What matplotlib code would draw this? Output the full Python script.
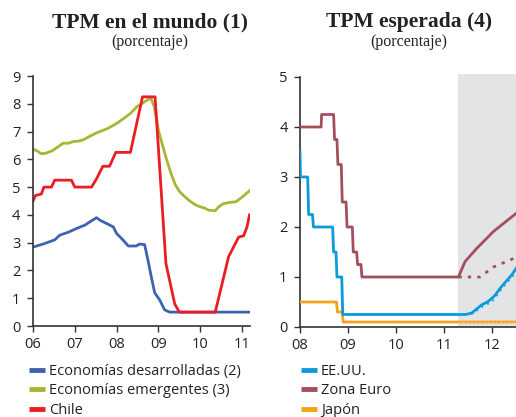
import matplotlib
matplotlib.use("Agg")
import matplotlib.pyplot as plt
from matplotlib.lines import Line2D

# ---------------- Data ----------------
# Left panel: TPM en el mundo (years as 2-digit decimal)
dev_x = [6.0, 6.24, 6.52, 6.64, 6.85, 7.04, 7.24, 7.36, 7.52, 7.6, 7.76, 7.92, 8.0, 8.12,
         8.28, 8.47, 8.55, 8.67, 8.75, 8.83, 8.91, 9.03, 9.15, 9.27, 9.4, 11.2]
dev_y = [2.84, 2.95, 3.1, 3.27, 3.38, 3.51, 3.63, 3.75, 3.9, 3.81, 3.69, 3.57, 3.33, 3.15,
         2.88, 2.88, 2.95, 2.93, 2.37, 1.77, 1.2, 0.94, 0.58, 0.5, 0.5, 0.5]

em_x = [6.0, 6.1, 6.2, 6.3, 6.45, 6.6, 6.72, 6.85, 6.96, 7.1, 7.2, 7.36, 7.52, 7.6,
        7.8, 8.0, 8.15, 8.33, 8.49, 8.6, 8.73, 8.82, 8.9, 8.96, 9.0, 9.1, 9.2, 9.3,
        9.4, 9.5, 9.6, 9.75, 9.9, 10.0, 10.1, 10.2, 10.36, 10.45, 10.55, 10.7, 10.85,
        10.96, 11.05, 11.18]
em_y = [6.37, 6.3, 6.2, 6.22, 6.3, 6.45, 6.58, 6.58, 6.64, 6.66, 6.7, 6.83, 6.95, 7.0,
        7.12, 7.29, 7.45, 7.65, 7.9, 8.0, 8.13, 8.2, 7.9, 7.41, 7.05, 6.5, 5.97, 5.5,
        5.1, 4.85, 4.7, 4.5, 4.35, 4.29, 4.25, 4.17, 4.15, 4.3, 4.4, 4.45, 4.47,
        4.59, 4.7, 4.87]

cl_x = [6.0, 6.06, 6.2, 6.26, 6.44, 6.52, 6.92, 7.0, 7.4, 7.52, 7.67, 7.83, 7.98, 8.33,
        8.62, 8.92, 9.18, 9.39, 9.5, 10.36, 10.68, 10.92, 11.04, 11.12, 11.18]
cl_y = [4.5, 4.7, 4.75, 5.0, 5.0, 5.25, 5.25, 5.0, 5.0, 5.3, 5.75, 5.75, 6.25, 6.25,
        8.25, 8.25, 2.25, 0.8, 0.5, 0.5, 2.5, 3.2, 3.25, 3.57, 4.0]

# Right panel: TPM esperada
us_x = [8.0, 8.01, 8.16, 8.18, 8.26, 8.28, 8.68, 8.70, 8.75, 8.77, 8.87, 8.89,
        11.45, 11.58, 11.78, 11.92, 12.05, 12.2, 12.41, 12.5]
us_y = [3.5, 3.0, 3.0, 2.25, 2.25, 2.0, 2.0, 1.5, 1.5, 1.0, 1.0, 0.25,
        0.25, 0.28, 0.44, 0.51, 0.62, 0.81, 1.04, 1.17]
us_fx = [11.3, 11.6, 11.82, 12.0, 12.2, 12.4, 12.5]
us_fy = [0.25, 0.27, 0.42, 0.5, 0.76, 0.98, 1.1]

eu_x = [8.0, 8.44, 8.45, 8.70, 8.72, 8.77, 8.79, 8.86, 8.88, 8.96, 8.98, 9.09, 9.11,
        9.18, 9.20, 9.27, 9.29, 11.3, 11.44, 11.68, 12.03, 12.5]
eu_y = [4.0, 4.0, 4.25, 4.25, 3.75, 3.75, 3.25, 3.25, 2.5, 2.5, 2.0, 2.0, 1.5,
        1.5, 1.25, 1.25, 1.0, 1.0, 1.31, 1.57, 1.91, 2.27]
eu_fx = [11.3, 11.75, 12.03, 12.5]
eu_fy = [1.0, 1.0, 1.2, 1.39]

jp_x = [8.0, 8.76, 8.78, 8.88, 8.90, 12.5]
jp_y = [0.5, 0.5, 0.3, 0.3, 0.1, 0.1]
jp_fx = [11.3, 12.5]
jp_fy = [0.1, 0.1]

forecast_start = 11.3

left_xticks = [6, 7, 8, 9, 10, 11]
left_xlabels = ["06", "07", "08", "09", "10", "11"]
right_xticks = [8, 9, 10, 11, 12]
right_xlabels = ["08", "09", "10", "11", "12"]

# ---------------- Style ----------------
C_DEV = "#3F62B0"
C_EM = "#A9B535"
C_CL = "#EC1C24"
C_US = "#0A9BDB"
C_EU = "#A3505C"
C_JP = "#F7A21B"
C_GRAY = "#E3E4E6"
SPINE = "#333333"
TXT = "#222222"
LW = 2.0

tick_font = "Open Sans"
title_font = "Liberation Serif"

fig = plt.figure(figsize=(5.16, 4.17), dpi=100)
W, H = 516.0, 417.0

def style_axes(ax):
    for s in ["top", "right"]:
        ax.spines[s].set_visible(False)
    for s in ["left", "bottom"]:
        ax.spines[s].set_color(SPINE)
        ax.spines[s].set_linewidth(1.2)
    ax.tick_params(direction="out", length=4, width=1.0, color=SPINE,
                   labelsize=10.5, labelcolor=TXT, pad=4)
    for lab in ax.get_xticklabels() + ax.get_yticklabels():
        lab.set_fontfamily(tick_font)

# Left axes
axL = fig.add_axes([33 / W, 1 - 326 / H, (250 - 33) / W, 250 / H])
axL.plot(dev_x, dev_y, color=C_DEV, lw=LW, solid_joinstyle="round")
axL.plot(em_x, em_y, color=C_EM, lw=LW, solid_joinstyle="round")
axL.plot(cl_x, cl_y, color=C_CL, lw=LW, solid_joinstyle="round")
axL.set_xlim(6, 6 + (250 - 33) / 41.8)
axL.set_ylim(0, 9)
axL.set_yticks(range(0, 10))
axL.set_xticks(left_xticks)
axL.set_xticklabels(left_xlabels)
style_axes(axL)
axL.tick_params(axis="y", pad=5)

# Right axes
axR = fig.add_axes([300 / W, 1 - 327 / H, (516 - 300) / W, 250 / H])
axR.axvspan(forecast_start, 13, ymin=0, ymax=1.012, color=C_GRAY, lw=0, zorder=0, clip_on=False)
axR.plot(jp_x, jp_y, color=C_JP, lw=LW, zorder=3)
axR.plot(jp_fx, jp_fy, color="#F9C46A", lw=1.0, ls=(0, (1.5, 1.5)), zorder=3)
axR.plot(eu_x, eu_y, color=C_EU, lw=LW, zorder=3)
axR.plot(eu_fx, eu_fy, color=C_EU, lw=LW, ls=(0, (1.2, 2.2)), zorder=3)
axR.plot(us_fx, us_fy, color=C_US, lw=1.3, ls=(0, (1.0, 2.5)), zorder=3)
axR.plot(us_x, us_y, color=C_US, lw=LW, zorder=4)
axR.set_xlim(8, 12.5)
axR.set_ylim(0, 5)
axR.set_yticks(range(0, 6))
axR.set_xticks(right_xticks)
axR.set_xticklabels(right_xlabels)
style_axes(axR)
axR.tick_params(axis="y", pad=5)

# Titles
fig.text(150 / W, 1 - 22 / H, "TPM en el mundo (1)", ha="center", va="center",
         fontfamily=title_font, fontweight="bold", fontsize=15.5, color=TXT)
fig.text(150 / W, 1 - 42 / H, "(porcentaje)", ha="center", va="center",
         fontfamily=title_font, fontsize=11.5, color=TXT)
fig.text(409 / W, 1 - 22 / H, "TPM esperada (4)", ha="center", va="center",
         fontfamily=title_font, fontweight="bold", fontsize=15.5, color=TXT)
fig.text(409 / W, 1 - 42 / H, "(porcentaje)", ha="center", va="center",
         fontfamily=title_font, fontsize=11.5, color=TXT)

# Legends
def mk(c):
    return Line2D([0], [0], color=c, lw=3.5, solid_capstyle="butt")

legL = fig.legend([mk(C_DEV), mk(C_EM), mk(C_CL)],
                  ["Economías desarrolladas (2)", "Economías emergentes (3)", "Chile"],
                  loc="upper left", bbox_to_anchor=(29 / W, 1 - 364 / H), frameon=False,
                  handlelength=1.1, handletextpad=0.25, labelspacing=0.3,
                  borderpad=0, borderaxespad=0,
                  prop={"family": tick_font, "size": 10.5})
legR = fig.legend([mk(C_US), mk(C_EU), mk(C_JP)],
                  ["EE.UU.", "Zona Euro", "Japón"],
                  loc="upper left", bbox_to_anchor=(301 / W, 1 - 364 / H), frameon=False,
                  handlelength=1.1, handletextpad=0.25, labelspacing=0.3,
                  borderpad=0, borderaxespad=0,
                  prop={"family": tick_font, "size": 10.5})
for leg in (legL, legR):
    for t in leg.get_texts():
        t.set_color(TXT)

fig.savefig("out.png", dpi=100)
